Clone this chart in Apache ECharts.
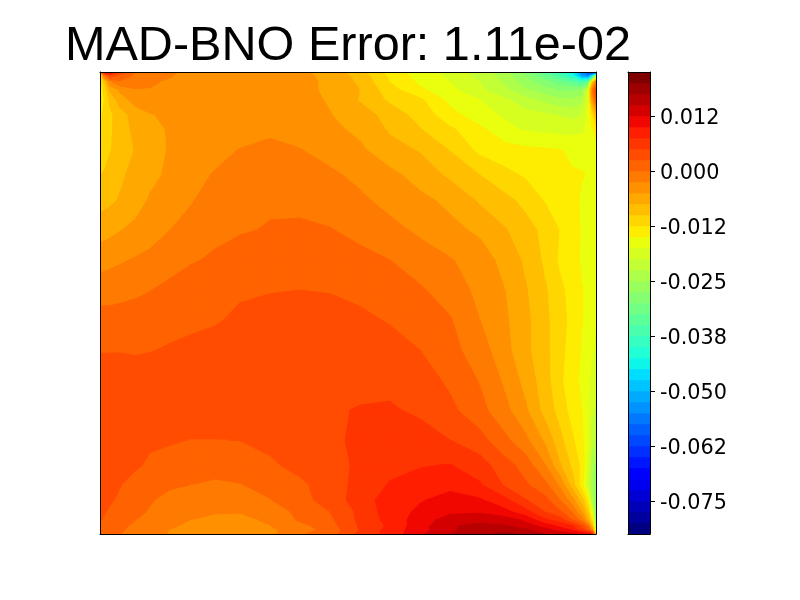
<!DOCTYPE html>
<html>
<head>
<meta charset="utf-8">
<style>html,body{margin:0;padding:0;background:#fff}#chart{width:800px;height:600px}</style>
<script src="https://cdn.jsdelivr.net/npm/echarts@6/dist/echarts.min.js"></script>
</head>
<body>
<div id="chart"></div>
<script>
// mesh nodes of the error field (finer toward the corners)
const meshX = [0,4,10,20,35,50,70,90,115,140,170,200,230,260,290,320,350,380,405,425,445,460,472,482,488,492,496];
const meshY = [0,4,10,18,28,43,58,78,103,128,158,188,218,248,278,308,338,368,393,413,428,440,448,454,458,462];

// error, in units of 1e-3, one row per meshY
const errorRows = [
  [-5,9,10,5,0,-1,-2,-3.5,-4,-4,-4,-4.5,-6,-9,-13.5,-16.5,-18.5,-21,-24,-28,-34,-38,-44,-55,-63,-70,-78],
  [-14,-2,4,1.5,-0.5,-1.5,-2.3,-3.5,-4,-4,-4,-4.5,-5.5,-8.5,-13,-16,-18,-21,-23.5,-27.5,-32,-36,-41,-52,-55,-45,-25],
  [-14,-10,-3,-0.5,-1.5,-2,-3,-3.7,-4,-4,-4,-4.4,-5.4,-8,-12.5,-15.5,-17.5,-20,-23,-26.5,-29,-31.5,-33.5,-37,-33,-12,-2],
  [-14,-12,-7,-4.5,-2.7,-2.7,-3.5,-4,-4,-4,-4,-4.4,-5.4,-7.5,-11.5,-14.5,-16.8,-19.5,-22,-24.5,-26.5,-28,-28,-27,-19,-3,5],
  [-13.5,-12.7,-9.5,-6.2,-4,-3.4,-3.8,-4,-4,-4,-4,-4.3,-5.2,-7.7,-10.5,-12,-15.7,-17.5,-19.5,-21.5,-23.2,-24.4,-24.7,-23.5,-18,-6,2],
  [-13,-12,-10.5,-8.7,-6.4,-5.2,-4.4,-4,-4,-4,-4,-4.2,-4.9,-6.3,-8.5,-11,-14,-16.5,-17.9,-19,-19.6,-20.2,-20.7,-20,-17,-13,-8],
  [-12.8,-12,-10.5,-8.6,-7,-5.7,-4.8,-4.2,-4,-3.6,-3,-3.5,-4.3,-5.6,-7.8,-9.8,-12,-14.3,-16.7,-17.7,-18,-18.3,-18.3,-18,-16.8,-15.5,-14],
  [-12.3,-11.5,-10.2,-8.8,-7.4,-6,-4.8,-3.8,-3.3,-2.4,-1.8,-2.4,-3.5,-4.5,-6.6,-7.7,-10.1,-13.2,-14,-14.4,-14.7,-14.9,-15.4,-15.5,-15.5,-15.6,-16],
  [-10,-9.7,-9,-8,-6.7,-5.8,-4.4,-3.4,-2.3,-1.7,-1,-1,-2,-3.2,-4.3,-6,-8,-10,-11.8,-12.8,-13.7,-14.5,-14.8,-14.9,-15.1,-16,-17],
  [-8.5,-8.3,-8,-7.3,-6.3,-4.7,-3.7,-2.7,-1.6,-0.8,-0.3,-0.3,-1,-2,-3.4,-4.4,-5.6,-7.9,-9.3,-10.7,-12.7,-13.6,-14.4,-15.3,-16,-16.7,-17.3],
  [-6.3,-6,-5.7,-5.1,-4.3,-3.5,-2.5,-1.8,-0.7,-0.2,0.15,0.2,0.1,-0.6,-1.7,-3,-4.3,-5.5,-7.3,-9,-10.7,-12.6,-13.7,-15.3,-16,-16.5,-17],
  [-3.4,-3.3,-3.1,-2.8,-2.3,-1.9,-1.3,-0.3,0.4,1,1.5,1.6,1.3,0.6,0,-1.2,-2.3,-3.7,-5.9,-7.9,-10.5,-13,-14.1,-15.3,-16,-16.5,-17],
  [-1.3,-1.2,-1.1,-0.8,-0.5,-0.1,0.8,1.4,1.9,2.2,2.4,2.5,2.4,1.9,1,0.3,-1.1,-3.2,-5,-7.2,-9.7,-11.9,-13.5,-14.9,-15.7,-16.3,-17],
  [1.1,1.1,1,1,1.2,1.5,1.8,2,2.3,2.9,3.2,3.3,3.2,3,2.3,1.4,0.2,-2.5,-4.6,-6.8,-9.4,-11.5,-13.3,-14.9,-16,-16.8,-17.5],
  [2.4,2.4,2.4,2.4,2.3,2.4,2.7,3,3.3,3.6,3.8,4,4,3.9,3.5,2.5,0.8,-1.3,-4.2,-6.8,-9.3,-11.7,-13.7,-15.2,-16.3,-17.2,-18],
  [3.3,3.3,3.4,3.4,3.4,3.5,3.6,3.8,4,4.2,4.4,4.5,4.5,4.5,4.3,3.7,2,-0.2,-3,-5.8,-9,-12,-14.2,-15.5,-17,-18.3,-19],
  [5,3.7,3.7,3.7,3.8,3.9,4,4.2,4.3,4.4,4.4,4.6,4.8,5.1,5.3,4.5,3.1,0.8,-1.8,-4.5,-8.5,-11,-13.6,-15,-17,-19.5,-20.5],
  [3.4,3.4,3.5,3.4,3,2.9,2.8,2.45,2.45,2.55,3,3.5,4.3,5.7,6.4,6.2,5,3.4,0.6,-1.8,-5.5,-9.3,-12,-14.5,-17,-21,-23],
  [3.2,3.1,3,3,2.9,2.1,1.4,0.9,0.7,1,2.2,3.1,4,5.5,6.8,7.3,7.6,6.1,3.5,1.5,-2.4,-7.3,-10.5,-13.3,-18,-24,-26],
  [3,3,2.9,2.6,1.6,0.9,0.4,0,-0.3,-0.1,0.7,2.1,3.5,6,7.7,8.6,9.4,7.8,4.7,2.9,0.8,-3,-8.5,-14,-20,-25,-28],
  [3,2.9,2.7,2.2,1.4,0.3,-0.9,-1.6,-2,-1.9,-0.1,1.6,3.6,6.2,8.8,9.8,10.8,10.3,8.2,5.2,3.3,0,-3.8,-9,-14,-23,-29],
  [2.8,2.6,2.3,1.6,0.8,-0.3,-1.6,-2.2,-2.4,-2.45,-1.5,0.7,2.5,5.6,8.8,10.5,12,12.2,10.8,8.6,5,3,0,-5,-10,-17,-30],
  [2.6,2.4,2,1.3,0.1,-1,-2.1,-2.5,-2.8,-2.8,-2.3,0.4,2,5.6,8.4,11.2,13.7,14.2,13.8,12,8,6.3,2.6,-1,-7,-12,-30],
  [2.3,2.1,1.6,0.8,-0.6,-1.5,-2.3,-2.8,-3.1,-3.1,-2.55,-0.8,1.5,5.3,8,11.5,14.7,15.8,15.2,13.8,11.6,9.4,7.8,4,0,-7,-25],
  [2.1,1.9,1.3,0.5,-1,-1.8,-2.55,-3.1,-3.4,-3.4,-2.9,-1.3,1,5.2,8.5,11.5,14.5,16.5,16.5,15.5,13.5,11.5,9.7,6,3,-2,-20],
  [2,1.7,1,0.1,-1.3,-2,-2.6,-3.2,-3.6,-3.7,-3.2,-0.3,1.2,5.7,8.4,12,15,17,18,17,15,14,13,12,11,10,-12]
];

// contour levels and colorbar ticks, same units
const levelMin = -82.5, levelStep = 2.5, levelCount = 42;
const tickValues = [-75,-62.5,-50,-37.5,-25,-12.5,0,12.5];
const tickLabels = ['-0.075','-0.062','-0.050','-0.038','-0.025','-0.012','0.000','0.012'];
const titleText = 'MAD-BNO Error: 1.11e-02';

// matplotlib jet
const jetR = [[0,0],[0.35,0],[0.66,1],[0.89,1],[1,0.5]];
const jetG = [[0,0],[0.125,0],[0.375,1],[0.64,1],[0.91,0],[1,0]];
const jetB = [[0,0.5],[0.11,1],[0.34,1],[0.65,0],[1,0]];
function ramp(stops, t) {
  for (let i = 1; i < stops.length; i++) {
    if (t <= stops[i][0]) {
      const a = stops[i - 1], b = stops[i];
      return a[1] + (b[1] - a[1]) * (t - a[0]) / (b[0] - a[0]);
    }
  }
  return stops[stops.length - 1][1];
}
function bandColor(k) {
  const t = k / (levelCount - 1);
  const c = [jetR, jetG, jetB].map(s => Math.round(ramp(s, t) * 255));
  return 'rgb(' + c.join(',') + ')';
}

// keep the part of a cell between two contour levels
function clipAbove(poly, level, sign) {
  const out = [];
  for (let i = 0; i < poly.length; i++) {
    const p = poly[i], q = poly[(i + 1) % poly.length];
    const pIn = sign * (p[2] - level) >= 0, qIn = sign * (q[2] - level) >= 0;
    if (pIn) out.push(p);
    if (pIn !== qIn) {
      const f = (level - p[2]) / (q[2] - p[2]);
      out.push([p[0] + (q[0] - p[0]) * f, p[1] + (q[1] - p[1]) * f, level]);
    }
  }
  return out;
}

const cellData = [];
for (let j = 0; j < meshY.length - 1; j++) {
  for (let i = 0; i < meshX.length - 1; i++) cellData.push([i, j]);
}

function renderCell(params, api) {
  const i = api.value(0), j = api.value(1);
  const quad = [[i, j], [i + 1, j], [i + 1, j + 1], [i, j + 1]]
    .map(n => [meshX[n[0]], meshY[n[1]], errorRows[n[1]][n[0]]]);
  const vals = quad.map(p => p[2]);
  const lo = Math.floor((Math.min(...vals) - levelMin) / levelStep);
  const hi = Math.floor((Math.max(...vals) - levelMin) / levelStep);
  const children = [];
  for (let k = Math.max(lo, 0); k <= Math.min(hi, levelCount - 1); k++) {
    const a = levelMin + k * levelStep;
    let poly = clipAbove(quad, a, 1);
    if (poly.length) poly = clipAbove(poly, a + levelStep, -1);
    if (poly.length < 3) continue;
    const color = bandColor(k);
    children.push({
      type: 'polygon',
      shape: { points: poly.map(p => api.coord([p[0], p[1]])) },
      style: { fill: color, stroke: color, lineWidth: 1 }
    });
  }
  return { type: 'group', children: children };
}

function renderBand(params, api) {
  const k = api.value(0);
  const a = api.coord([0, levelMin + (k + 1) * levelStep]);
  const b = api.coord([1, levelMin + k * levelStep]);
  return {
    type: 'rect',
    shape: { x: a[0], y: a[1], width: b[0] - a[0], height: b[1] - a[1] },
    style: { fill: bandColor(k), stroke: bandColor(k), lineWidth: 0.5 }
  };
}

const bandData = [];
for (let k = 0; k < levelCount; k++) bandData.push([k]);

const black = { show: true, lineStyle: { color: '#000', width: 1 }, onZero: false };
function spineX(gridIndex, position, max) {
  return { type: 'value', gridIndex, position, min: 0, max, z: 5, axisLine: black,
    axisTick: { show: false }, axisLabel: { show: false }, splitLine: { show: false } };
}
function spineY(gridIndex, position, min, max, inverse) {
  return { type: 'value', gridIndex, position, min, max, inverse, z: 5, axisLine: black,
    axisTick: { show: false }, axisLabel: { show: false }, splitLine: { show: false } };
}

const cbarAxis = spineY(1, 'right', levelMin, levelMin + levelCount * levelStep, false);
cbarAxis.axisTick = { show: true, length: 5, lineStyle: { color: '#000', width: 1 }, customValues: tickValues };
cbarAxis.axisLabel = {
  show: true, color: '#000', fontFamily: 'DejaVu Sans', fontSize: 20.8, margin: 10,
  verticalAlign: 'top', lineHeight: 6,
  customValues: tickValues,
  formatter: v => tickLabels[tickValues.indexOf(v)]
};

const chart = echarts.init(document.getElementById('chart'), null, { renderer: 'canvas' });
chart.setOption({
  animation: false,
  backgroundColor: '#fff',
  title: {
    text: titleText, left: 343, top: 17, textAlign: 'center',
    textStyle: { fontFamily: 'Liberation Sans', fontSize: 48.6, fontWeight: 'normal', color: '#000' }
  },
  grid: [
    { left: 100, top: 72, width: 496, height: 462 },
    { left: 628, top: 72, width: 22, height: 462 }
  ],
  xAxis: [
    spineX(0, 'bottom', 496), spineX(0, 'top', 496),
    spineX(1, 'bottom', 1), spineX(1, 'top', 1)
  ],
  yAxis: [
    spineY(0, 'left', 0, 462, true), spineY(0, 'right', 0, 462, true),
    spineY(1, 'left', levelMin, levelMin + levelCount * levelStep, false), cbarAxis
  ],
  series: [
    {
      type: 'custom', xAxisIndex: 0, yAxisIndex: 0, coordinateSystem: 'cartesian2d',
      renderItem: renderCell, data: cellData, clip: true, silent: true, progressive: 0
    },
    {
      type: 'custom', xAxisIndex: 2, yAxisIndex: 3, coordinateSystem: 'cartesian2d',
      renderItem: renderBand, data: bandData, clip: true, silent: true, progressive: 0
    }
  ]
});
</script>
</body>
</html>
